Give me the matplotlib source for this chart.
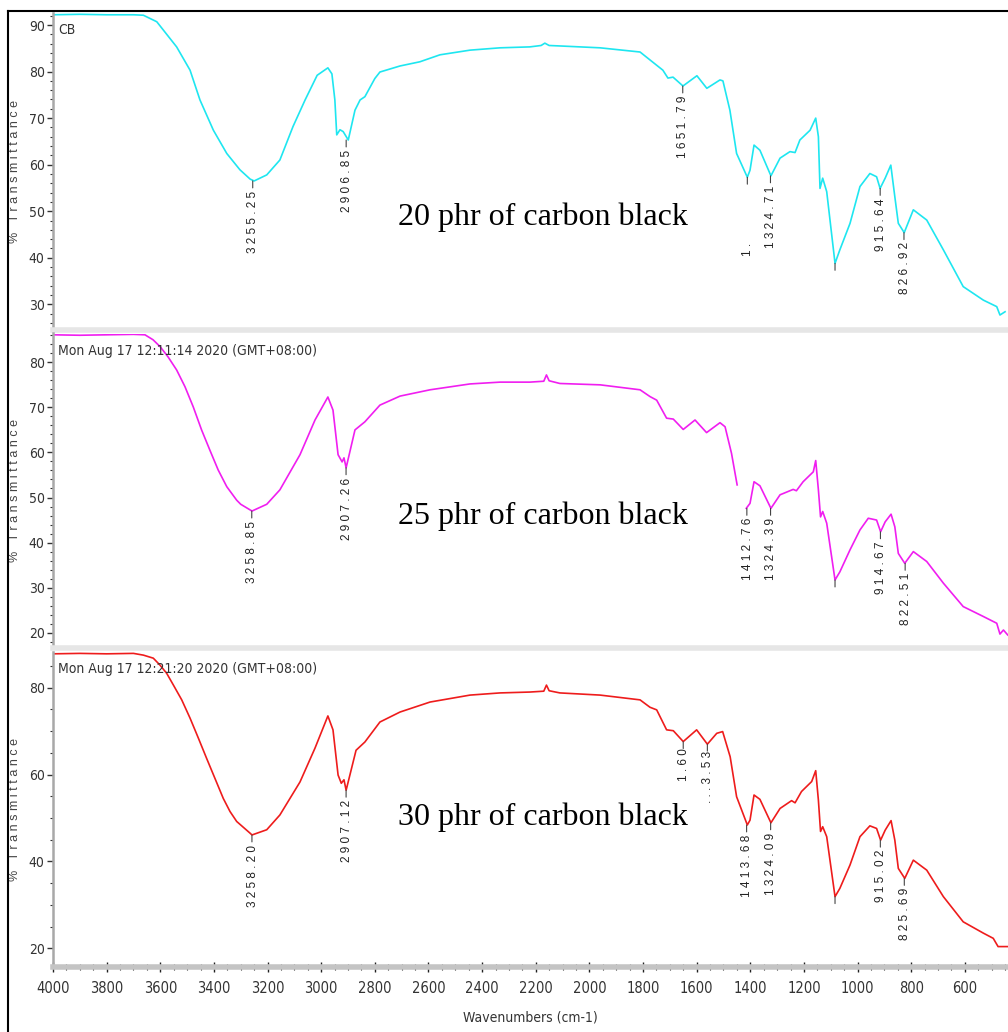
import matplotlib
matplotlib.use('Agg')
import matplotlib.pyplot as plt
import numpy as np
from matplotlib import font_manager
from matplotlib.font_manager import FontProperties
from matplotlib.ticker import MultipleLocator
from matplotlib.lines import Line2D

# pick a narrow font for the instrument-style axis text
files = [f.fname for f in font_manager.fontManager.ttflist]
narrow_file = None
for key in ['LiberationSansNarrow-Regular', 'DejaVuSansCondensed.', 'Condensed-Regular', 'SemiCondensed-Regular', 'Condensed']:
    hits = [f for f in files if key in f and 'Bold' not in f and 'Oblique' not in f and 'Italic' not in f]
    if hits:
        narrow_file = sorted(hits)[0]
        break


def nfont(size):
    if narrow_file:
        return FontProperties(fname=narrow_file, size=size)
    return FontProperties(family=['Liberation Sans', 'DejaVu Sans'], size=size)


sans = ['Liberation Sans', 'DejaVu Sans']
serif = ['Liberation Serif', 'DejaVu Serif']

# ---- data ----
wn1 = [4000, 3900, 3800, 3700, 3663, 3613, 3539, 3489, 3452, 3402, 3352, 3303, 3265, 3250, 3203, 3154,
       3105, 3060, 3015, 2975, 2960, 2949, 2942, 2930, 2918, 2899, 2874, 2855, 2837, 2800, 2781, 2706,
       2632, 2557, 2445, 2333, 2222, 2180, 2166, 2150, 2110, 1960, 1811, 1774, 1726, 1707, 1688, 1651,
       1599, 1562, 1513, 1502, 1476, 1451, 1411, 1401, 1386, 1364, 1323, 1289, 1252, 1233, 1215, 1177,
       1156, 1146, 1140, 1130, 1115, 1084, 1066, 1028, 991, 954, 929, 916, 897, 876, 861, 848, 826,
       792, 742, 680, 606, 531, 481, 469, 450]
t1 = [92.2, 92.3, 92.2, 92.2, 92.1, 90.7, 85.3, 80.3, 73.9, 67.4, 62.4, 58.9, 56.9, 56.5, 57.8, 61.0,
      68.2, 73.9, 79.2, 80.8, 79.5, 73.9, 66.4, 67.5, 67.1, 65.3, 71.7, 73.9, 74.6, 78.5, 79.9, 81.2,
      82.1, 83.6, 84.6, 85.1, 85.3, 85.6, 86.1, 85.6, 85.5, 85.1, 84.2, 82.5, 80.3, 78.6, 78.8, 76.9,
      79.1, 76.4, 78.2, 78.0, 71.7, 62.4, 57.3, 58.8, 64.2, 63.1, 57.6, 61.4, 62.8, 62.6, 65.3, 67.4,
      70.0, 66.0, 54.9, 57.1, 54.2, 38.8, 41.7, 47.4, 55.3, 58.1, 57.4, 54.9, 57.1, 59.9, 53.1, 47.4, 45.4,
      50.3, 48.1, 41.7, 33.8, 30.9, 29.5, 27.7, 28.4]

wn2 = [4000, 3900, 3800, 3700, 3657, 3627, 3601, 3571, 3539, 3508, 3477, 3446, 3415, 3384, 3352, 3315,
       3300, 3258, 3203, 3154, 3079, 3023,
       2975, 2956, 2937, 2922, 2915, 2907, 2874, 2837, 2781, 2706, 2594, 2445, 2333, 2222, 2170, 2160,
       2150, 2110, 1960, 1811, 1774, 1749, 1712, 1687, 1650, 1606, 1563, 1513, 1494, 1470, 1449, 1430,
       1415, 1401, 1386, 1364, 1323, 1289, 1240, 1228, 1203, 1165, 1156, 1146, 1138, 1130, 1115, 1084,
       1066, 1028, 991, 960, 929, 914, 897, 875, 861, 848, 824, 792, 742, 680, 606, 531, 481, 469, 456, 440]
t2 = [86.1, 86.0, 86.1, 86.2, 86.1, 85.0, 83.5, 81.2, 78.3, 74.6, 70.1, 65.0, 60.5, 56.1, 52.4, 49.4,
      48.5, 47.0, 48.5, 51.7, 59.5, 67.2,
      72.3, 69.4, 59.5, 57.9, 58.8, 56.6, 65.0, 66.8, 70.5, 72.5, 73.9, 75.2, 75.6, 75.6, 75.8, 77.2,
      75.9, 75.3, 75.0, 73.9, 72.4, 71.6, 67.6, 67.4, 65.1, 67.2, 64.4, 66.6, 65.7, 59.8, 52.8, np.nan,
      47.6, 48.7, 53.5, 52.6, 47.6, 50.6, 51.8, 51.5, 53.5, 55.7, 58.2, 51.7, 45.7, 46.9, 44.3, 31.7,
      33.5, 38.4, 42.8, 45.4, 45.0, 42.4, 44.6, 46.3, 43.5, 37.6, 35.4, 38.0, 35.8, 31.0, 25.8, 23.6, 22.1, 19.7, 20.6, 19.5]

wn3 = [4000, 3900, 3800, 3700, 3663, 3626, 3601, 3576, 3551, 3520, 3489, 3458, 3427, 3396, 3365, 3340,
       3315, 3265, 3258, 3203, 3154, 3079,
       3023, 2975, 2956, 2937, 2925, 2915, 2907, 2870, 2837, 2781, 2706, 2594, 2445, 2333, 2222, 2170,
       2160, 2150, 2110, 1960, 1811, 1774, 1749, 1712, 1687, 1650, 1600, 1560, 1525, 1503, 1475, 1451,
       1411, 1401, 1386, 1364, 1323, 1289, 1246, 1233, 1209, 1171, 1156, 1146, 1138, 1130, 1115, 1084,
       1066, 1028, 991, 954, 929, 914, 897, 875, 861, 848, 824, 792, 742, 680, 606, 531, 494, 476, 440]
t3 = [87.8, 87.9, 87.8, 87.9, 87.5, 86.8, 85.2, 83.3, 80.6, 77.2, 73.0, 68.4, 63.7, 59.1, 54.5, 51.5,
      49.2, 46.5, 46.1, 47.3, 50.7, 58.3,
      66.1, 73.5, 70.3, 59.9, 58.0, 58.8, 56.4, 65.6, 67.5, 72.1, 74.4, 76.7, 78.3, 78.8, 79.0, 79.2,
      80.6, 79.3, 78.8, 78.3, 77.2, 75.5, 74.9, 70.3, 70.1, 67.6, 70.3, 67.0, 69.5, 69.9, 64.1, 54.9,
      48.4, 49.5, 55.3, 54.3, 48.9, 52.2, 54.0, 53.5, 56.1, 58.4, 60.9, 54.1, 46.9, 48.0, 45.7, 31.9,
      33.8, 39.2, 45.7, 48.2, 47.6, 44.9, 47.2, 49.4, 44.9, 38.4, 36.1, 40.3, 38.0, 31.9, 26.1, 23.5, 22.3, 20.4, 20.4]

pk_wn1 = [3255.25, 2906.85, 1651.79, 1411, 1324.71, 915.64, 826.92, 1084]
pk_t1 = [56.5, 65.3, 76.9, 57.3, 57.6, 54.9, 45.4, 38.8]
pk_lab1 = ['3255.25', '2906.85', '1651.79', '1.', '1324.71', '915.64', '826.92', '']
pk_gap1 = [7, 7, 7, 47, 7, 7, 7, 7]

pk_wn2 = [3258.85, 2907.26, 1412.76, 1324.39, 914.67, 822.51, 1084]
pk_t2 = [47.0, 56.6, 47.6, 47.6, 42.4, 35.4, 31.7]
pk_lab2 = ['3258.85', '2907.26', '1412.76', '1324.39', '914.67', '822.51', '']
pk_gap2 = [7, 7, 7, 7, 7, 7, 7]

pk_wn3 = [3258.20, 2907.12, 1650, 1560, 1413.68, 1324.09, 915.02, 825.69, 1084]
pk_t3 = [46.1, 56.4, 67.6, 67.0, 48.4, 48.9, 44.9, 36.1, 31.9]
pk_lab3 = ['3258.20', '2907.12', '1.60', '...3.53', '1413.68', '1324.09', '915.02', '825.69', '']
pk_gap3 = [7, 7, 5, 5, 7, 7, 7, 7, 7]

titles = ['20 phr of carbon black', '25 phr of carbon black', '30 phr of carbon black']
headers = ['CB', 'Mon Aug 17 12:11:14 2020 (GMT+08:00)', 'Mon Aug 17 12:21:20 2020 (GMT+08:00)']
colors = ['#1ee6f0', '#f01ef0', '#ee1c1c']

# ---- layout ----
fig = plt.figure(figsize=(10.08, 10.32), dpi=100)
L = 53 / 1008.
W = 1 - L
boxes = [(1 - 330 / 1032., 1 - 13 / 1032.), (1 - 648 / 1032., 1 - 333.5 / 1032.), (1 - 966.7 / 1032., 1 - 652 / 1032.)]
ylims = [(24.48, 92.58), (16.61, 86.39), (15.77, 88.22)]
ymaj = [10, 10, 20]
ymin = [2, 2, 5]
title_y = [0.3565, 0.42, 0.4757]
data = [(wn1, t1, pk_wn1, pk_t1, pk_lab1, pk_gap1),
        (wn2, t2, pk_wn2, pk_t2, pk_lab2, pk_gap2),
        (wn3, t3, pk_wn3, pk_t3, pk_lab3, pk_gap3)]

for i in range(3):
    b, t = boxes[i]
    ax = fig.add_axes([L, b, W, t - b])
    wn, tt, pw, pt, pl, pg = data[i]
    ax.plot(wn, tt, '-', color=colors[i], lw=1.2)
    ax.set_xlim(4000, 439)
    ax.set_ylim(*ylims[i])
    ax.yaxis.set_major_locator(MultipleLocator(ymaj[i]))
    ax.yaxis.set_minor_locator(MultipleLocator(ymin[i]))
    ax.xaxis.set_major_locator(MultipleLocator(200))
    ax.xaxis.set_minor_locator(MultipleLocator(50))
    for s in ['top', 'right']:
        ax.spines[s].set_visible(False)
    ax.spines['left'].set_color('#a8a8a8')
    ax.spines['left'].set_linewidth(1.8)
    ax.tick_params(axis='y', which='major', direction='out', length=4, width=1, color='#333333',
                   labelcolor='#333333', pad=2)
    ax.tick_params(axis='y', which='minor', direction='out', length=2.5, width=0.8, color='#333333')
    for lab in ax.get_yticklabels():
        lab.set_fontproperties(nfont(10))
    ax.set_ylabel(' '.join('% Transmittance'), fontsize=9, color='#444444', family=sans)
    ax.yaxis.set_label_coords(-0.0335, 0.5)
    if i < 2:
        ax.spines['bottom'].set_color('#e6e6e6')
        ax.spines['bottom'].set_linewidth(4)
        ax.tick_params(axis='x', which='both', bottom=False, labelbottom=False)
    else:
        ax.spines['bottom'].set_color('#c4c4c4')
        ax.spines['bottom'].set_linewidth(4)
        ax.tick_params(axis='x', which='major', direction='inout', length=7, width=1, color='#222222',
                       labelcolor='#333333', pad=7)
        ax.tick_params(axis='x', which='minor', direction='inout', length=4, width=0.8, color='#222222')
        for lab in ax.get_xticklabels():
            lab.set_fontproperties(nfont(10.5))
        ax.set_xlabel('Wavenumbers (cm-1)', fontproperties=nfont(10), color='#333333', labelpad=10)

    # peak picks
    for w, v, s, g in zip(pw, pt, pl, pg):
        ax.annotate('', xy=(w, v), xytext=(0, -5), textcoords='offset points',
                    arrowprops=dict(arrowstyle='-', color='#444444', lw=0.8, shrinkA=0, shrinkB=0))
        if s:
            ax.annotate(' '.join(s), xy=(w, v), xytext=(0.5, -g), textcoords='offset points',
                        rotation=90, ha='center', va='top', fontsize=8.5, color='#222222', family=sans)

    ax.text(0.005, 0.945, headers[i], transform=ax.transAxes, fontproperties=nfont(10), color='#333333',
            va='center', ha='left')
    ax.text(0.361, title_y[i], titles[i], transform=ax.transAxes, fontsize=23, color='black',
            family=serif, va='center', ha='left')

# outer frame
fig.add_artist(Line2D([8 / 1008., 8 / 1008.], [0, 1 - 10.5 / 1032.], transform=fig.transFigure, color='black', lw=1.5))
fig.add_artist(Line2D([8 / 1008., 1], [1 - 10.5 / 1032., 1 - 10.5 / 1032.], transform=fig.transFigure, color='black', lw=1.5))

plt.savefig('out.png', dpi=100)
